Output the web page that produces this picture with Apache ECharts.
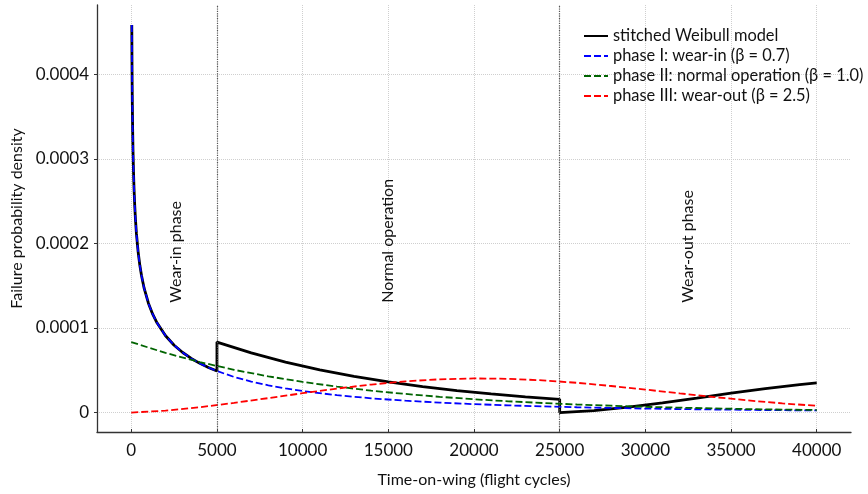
<!DOCTYPE html>
<html>
<head>
<meta charset="utf-8">
<script src="https://cdn.jsdelivr.net/npm/echarts@6/dist/echarts.min.js"></script>
<style>
html,body{margin:0;padding:0;background:#fff;}
#chart{width:868px;height:494px;}
</style>
</head>
<body>
<div id="chart"></div>
<script>
// ---- data ----
const seriesNames = [
  'stitched Weibull model',
  'phase I: wear-in (β = 0.7)',
  'phase II: normal operation (β = 1.0)',
  'phase III: wear-out (β = 2.5)'
];

// stitched model (black)
const stitchX = [30,40,50,60,80,100,130,160,200,250,300,400,500,600,750,1000,1250,1500,2000,2500,3000,3500,4000,4500,5000,
  5000,7000,9000,11000,13000,15000,17000,19000,21000,23000,25000,
  25000,27000,29000,31000,33000,35000,37000,39000,40000];
const stitchY = [458.3e-6,418.5e-6,389.8e-6,367.6e-6,334.7e-6,310.9e-6,284.8e-6,265.2e-6,245.3e-6,226.6e-6,211.9e-6,190.1e-6,174.1e-6,161.7e-6,147.1e-6,129.3e-6,116.3e-6,106.1e-6,90.8e-6,79.6e-6,71.0e-6,64.0e-6,58.2e-6,53.3e-6,49.1e-6,
  83.3e-6,70.5e-6,59.7e-6,50.5e-6,42.8e-6,36.2e-6,30.7e-6,25.9e-6,22.0e-6,18.6e-6,15.7e-6,
  0,2.26e-6,6.33e-6,11.43e-6,17.08e-6,22.86e-6,28.35e-6,33.14e-6,35.17e-6];

// phase I (blue)
const phase1X = [30,40,50,60,80,100,130,160,200,250,300,400,500,600,750,1000,1250,1500,2000,2500,3000,3500,4000,4500,5000,6000,7000,8000,9000,10000,
  12000,14000,16000,18000,20000,22000,24000,26000,28000,30000,32000,34000,36000,38000,40000];
const phase1Y = [458.3e-6,418.5e-6,389.8e-6,367.6e-6,334.7e-6,310.9e-6,284.8e-6,265.2e-6,245.3e-6,226.6e-6,211.9e-6,190.1e-6,174.1e-6,161.7e-6,147.1e-6,129.3e-6,116.3e-6,106.1e-6,90.8e-6,79.6e-6,71.0e-6,64.0e-6,58.2e-6,53.3e-6,49.1e-6,42.1e-6,36.6e-6,32.2e-6,28.5e-6,25.4e-6,
  20.5e-6,16.85e-6,14.0e-6,11.75e-6,9.95e-6,8.48e-6,7.27e-6,6.27e-6,5.43e-6,4.73e-6,4.12e-6,3.61e-6,3.17e-6,2.80e-6,2.47e-6];

// phase II (green)
const phase2X = [0,2000,4000,6000,8000,10000,12000,14000,16000,18000,20000,22000,24000,26000,28000,30000,32000,34000,36000,38000,40000];
const phase2Y = [83.3e-6,70.5e-6,59.7e-6,50.5e-6,42.8e-6,36.2e-6,30.7e-6,25.9e-6,22.0e-6,18.6e-6,15.7e-6,13.3e-6,11.3e-6,9.5e-6,8.1e-6,6.8e-6,5.8e-6,4.9e-6,4.1e-6,3.5e-6,3.0e-6];

// phase III (red)
const phase3X = [0,2000,4000,6000,8000,10000,12000,14000,16000,18000,20000,22000,24000,26000,28000,30000,32000,34000,36000,38000,40000];
const phase3Y = [0,2.26e-6,6.33e-6,11.43e-6,17.08e-6,22.86e-6,28.35e-6,33.14e-6,36.89e-6,39.35e-6,40.37e-6,39.92e-6,38.13e-6,35.20e-6,31.42e-6,27.15e-6,22.69e-6,18.35e-6,14.34e-6,10.85e-6,7.94e-6];

// phase boundaries
const boundaries = [5000, 25000];

// phase annotations
const annotTexts = ['Wear-in phase', 'Normal operation', 'Wear-out phase'];
const annotX = [2600, 15000, 32500];
const annotY = [0.00013, 0.00013, 0.00013];

// axis labels
const xAxisName = 'Time-on-wing (flight cycles)';
const yAxisName = 'Failure probability density';

// ---- chart ----
const pair = (xs, ys) => xs.map((x, i) => [x, ys[i]]);
const FONT = 'Lato';

const chart = echarts.init(document.getElementById('chart'), null, {renderer: 'canvas'});

const dashed = [7, 3];
const option = {
  animation: false,
  backgroundColor: '#fff',
  textStyle: {fontFamily: FONT},
  grid: {left: 97, right: 17, top: 5, bottom: 62, containLabel: false},
  legend: {
    orient: 'vertical',
    left: 578,
    top: 23,
    padding: 5,
    itemWidth: 24,
    itemHeight: 14,
    itemGap: 4,
    data: seriesNames,
    itemStyle: {color: 'rgba(0,0,0,0)', borderColor: 'rgba(0,0,0,0)', borderWidth: 0, opacity: 0},
    textStyle: {fontFamily: FONT, fontSize: 16.4, color: '#111'}
  },
  xAxis: {
    type: 'value',
    min: -2000,
    max: 42000,
    splitNumber: 9,
    minInterval: 5000,
    maxInterval: 5000,
    name: xAxisName,
    nameLocation: 'middle',
    nameGap: 40,
    nameTextStyle: {fontFamily: FONT, fontSize: 16, color: '#111'},
    axisLine: {show: true, onZero: false, lineStyle: {color: '#333', width: 1.3}},
    axisTick: {show: true, inside: true, length: 3, lineStyle: {color: '#333'}},
    axisLabel: {
      fontFamily: FONT, fontSize: 17, color: '#111', margin: 10,
      showMinLabel: false, showMaxLabel: false,
      formatter: v => (Math.abs(v % 5000) < 1e-6 ? String(Math.round(v)) : '')
    },
    splitLine: {show: true, showMinLine: false, showMaxLine: false,
      lineStyle: {color: '#cfcfcf', type: 'dotted', width: 1}}
  },
  yAxis: {
    type: 'value',
    min: -0.000023,
    max: 0.000482,
    splitNumber: 5,
    minInterval: 0.0001,
    maxInterval: 0.0001,
    name: yAxisName,
    nameLocation: 'middle',
    nameGap: 72,
    nameTextStyle: {fontFamily: FONT, fontSize: 16, color: '#111'},
    axisLine: {show: true, onZero: false, lineStyle: {color: '#333', width: 1.3}},
    axisTick: {show: true, inside: false, length: 3, lineStyle: {color: '#333'}},
    axisLabel: {
      fontFamily: FONT, fontSize: 17, color: '#111', margin: 8,
      showMinLabel: false, showMaxLabel: false,
      formatter: v => {
        const k = Math.round(v / 0.0001);
        if (Math.abs(v - k * 0.0001) > 1e-9) return '';
        return k === 0 ? '0' : (k * 0.0001).toFixed(4);
      }
    },
    splitLine: {show: true, showMinLine: false, showMaxLine: false,
      lineStyle: {color: '#cfcfcf', type: 'dotted', width: 1}}
  },
  series: [
    {
      name: seriesNames[0], type: 'line', data: pair(stitchX, stitchY),
      showSymbol: false, symbol: 'none', z: 3,
      lineStyle: {color: '#000', width: 2.8},
      itemStyle: {color: '#000'},
      markLine: {
        silent: true, symbol: ['none', 'none'], label: {show: false},
        lineStyle: {color: '#555', type: 'dotted', width: 1.2},
        data: boundaries.map(b => ({xAxis: b}))
      }
    },
    {
      name: seriesNames[1], type: 'line', data: pair(phase1X, phase1Y),
      showSymbol: false, symbol: 'none', z: 4,
      lineStyle: {color: '#0000ff', width: 1.8, type: dashed},
      itemStyle: {color: '#0000ff'}
    },
    {
      name: seriesNames[2], type: 'line', data: pair(phase2X, phase2Y),
      showSymbol: false, symbol: 'none', z: 4,
      lineStyle: {color: '#006400', width: 1.8, type: dashed},
      itemStyle: {color: '#006400'}
    },
    {
      name: seriesNames[3], type: 'line', data: pair(phase3X, phase3Y),
      showSymbol: false, symbol: 'none', z: 4,
      lineStyle: {color: '#ff0000', width: 1.8, type: dashed},
      itemStyle: {color: '#ff0000'}
    }
  ]
};
chart.setOption(option);

// rotated phase annotations positioned through the axes
const graphics = annotTexts.map((t, i) => {
  const p = chart.convertToPixel({gridIndex: 0}, [annotX[i], annotY[i]]);
  return {
    type: 'text', x: p[0], y: p[1], rotation: Math.PI / 2, z: 10,
    style: {text: t, fontFamily: FONT, fontSize: 16, fill: '#111', align: 'left', verticalAlign: 'middle'}
  };
});
chart.setOption({graphic: graphics});
</script>
</body>
</html>
